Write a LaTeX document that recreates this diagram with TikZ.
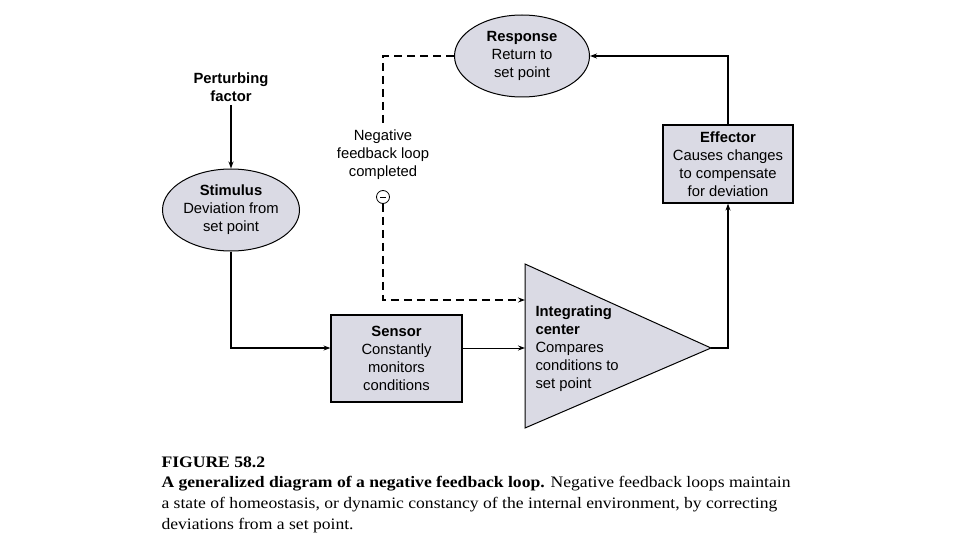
\documentclass[tikz,border=0pt]{standalone}
\usepackage{fontspec}
\setmainfont{Liberation Serif}
\setsansfont{Liberation Sans}
\newfontfamily\capfont[FakeStretch=1.1]{Liberation Serif}
\usetikzlibrary{shapes.geometric,arrows.meta}
\definecolor{boxgray}{RGB}{218,218,228}

\begin{document}
\begin{tikzpicture}[x=1pt,y=-1pt,
		every node/.style={font=\sffamily\fontsize{14.8}{18}\selectfont,align=center},
		blob/.style={ellipse,draw,line width=1pt,fill=boxgray,inner sep=0pt,minimum width=137pt,minimum height=82pt},
		unit/.style={rectangle,draw,line width=1.2pt,fill=boxgray,inner sep=0pt},
		link/.style={-{Stealth[length=7pt,width=5pt]},line width=1.5pt},
		feedback/.style={link,dash pattern=on 8pt off 5pt}]
	\useasboundingbox (0,0) rectangle (960,540);

	% nodes
	\node (pert) at (231,87) {\textbf{Perturbing}\\\textbf{factor}};
	\node[blob] (stim) at (231,210) {\textbf{Stimulus}\\Deviation from\\set point};
	\node[unit,minimum width=131pt,minimum height=87pt] (sens) at (396.5,358.5) {\textbf{Sensor}\\Constantly\\monitors\\conditions};
	\node[unit,minimum width=130pt,minimum height=78pt] (eff) at (728,164) {\textbf{Effector}\\Causes changes\\to compensate\\for deviation};
	\node[blob,minimum width=135pt] (resp) at (522,56) {\textbf{Response}\\Return to\\set point};
	\node[inner sep=2pt] (neg) at (383,155) {Negative\\feedback loop\\completed};
	\node[circle,draw,line width=0.8pt,minimum size=13pt,inner sep=0pt] (minus) at (383,197) {\rule[-0.5pt]{6pt}{1pt}};

	% integrating center
	\coordinate (ic-top) at (525,264);
	\coordinate (ic-bot) at (525,428);
	\coordinate (ic-tip) at (711,348);
	\coordinate (ic-fb) at (525,300);
	\coordinate (ic-in) at (525,348);
	\filldraw[fill=boxgray,line width=1pt] (ic-top) -- (ic-tip) -- (ic-bot) -- cycle;
	\node[anchor=west,align=left] (ic) at (532,349) {\textbf{Integrating}\\\textbf{center}\\Compares\\conditions to\\set point};

	% connectors
	\draw[link] (pert) -- (stim);
	\draw[link] (stim.south) |- (sens.west |- ic-in);
	\draw[link,line width=1pt] (sens.east |- ic-in) -- (ic-in);
	\draw[link] (ic-tip) -| (eff.south);
	\draw[link] (eff.north) |- (resp.east);
	\draw[feedback,-] (resp.west) -| (neg.north);
	\draw[feedback] (minus.south) |- (ic-fb);

	% caption
	\node[anchor=north west,align=left,font=\capfont\fontsize{16}{20.7}\selectfont] (cap) at (158,453)
		{\textbf{FIGURE 58.2}\\
		\textbf{A generalized diagram of a negative feedback loop.} Negative feedback loops maintain\\
		a state of homeostasis, or dynamic constancy of the internal environment, by correcting\\
		deviations from a set point.};
\end{tikzpicture}
\end{document}
